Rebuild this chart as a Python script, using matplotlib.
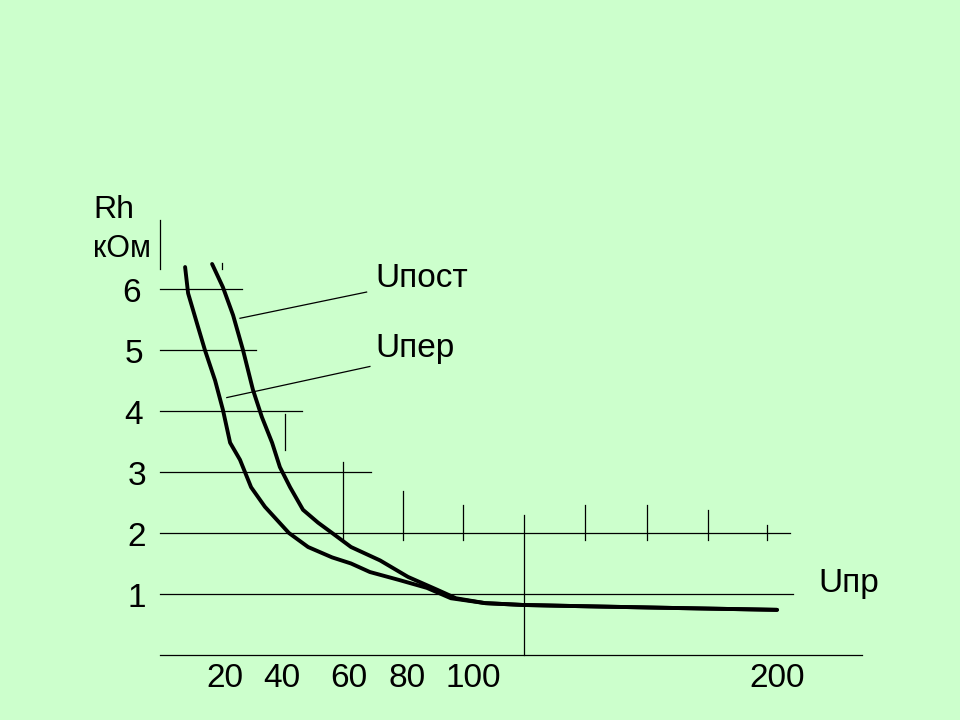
import numpy as np
import matplotlib.pyplot as plt

plt.rcParams['font.family'] = ['Liberation Sans', 'DejaVu Sans']

# curves: U (V) vs Rh (kOm)
u_post = [15.7, 19.3, 22.7, 26.0, 29.3, 32.3, 35.7, 38.3, 41.7, 46.0, 51.0, 55.7,
          62.0, 71.7, 81.0, 90.7, 97.0, 106.7, 119.3, 138.7, 170.3, 204.0]
r_post = [6.41, 6.03, 5.57, 5.00, 4.35, 3.90, 3.48, 3.08, 2.75, 2.38, 2.17, 2.00,
          1.77, 1.55, 1.28, 1.07, 0.93, 0.85, 0.82, 0.80, 0.77, 0.74]

u_per = [6.7, 7.7, 11.0, 13.3, 16.7, 19.3, 21.7, 25.0, 28.7, 33.3, 41.3, 47.7,
         55.7, 62.0, 68.3, 78.0, 87.3, 95.3, 106.7, 119.3, 138.7, 170.3, 204.0]
r_per = [6.36, 5.93, 5.38, 5.00, 4.50, 4.02, 3.48, 3.20, 2.75, 2.43, 2.00, 1.77,
         1.60, 1.50, 1.36, 1.23, 1.10, 0.93, 0.85, 0.82, 0.80, 0.77, 0.74]

# hand drawn grid: horizontal levels and how far right each one goes
grid_levels = [6, 5, 4, 3, 2, 1, 0]
grid_ends = [25.7, 30.3, 45.7, 68.5, 208.3, 209.3, 232.3]
grid_start = -1.7

# vertical marks: x, bottom, top
vmarks_x = [40, 59.3, 79.3, 99.3, 119.7, 140, 160.7, 181, 200.7, 19]
vmarks_lo = [3.36, 1.89, 1.89, 1.89, 0.0, 1.89, 1.89, 1.89, 1.89, 6.33]
vmarks_hi = [3.95, 3.16, 2.69, 2.46, 2.30, 2.46, 2.46, 2.38, 2.13, 6.43]

y_labels = ['6', '5', '4', '3', '2', '1']
y_label_x = [-11.3, -10.3, -10.4, -9.4, -9.3, -9.3]
x_labels = ['20', '40', '60', '80', '100', '200']
x_label_pos = [20, 39, 61.3, 80.7, 102.7, 204]

fig = plt.figure(figsize=(9.6, 7.2), dpi=100, facecolor='#ccffcc')
ax = fig.add_axes([0, 0, 1, 1])
ax.set_facecolor('#ccffcc')
ax.set_xlim(-55, 265)
ax.set_ylim(-1.066, 10.738)
ax.axis('off')

for lev, end in zip(grid_levels, grid_ends):
    ax.plot([grid_start, end], [lev, lev], color='black', lw=0.9)
for x, lo, hi in zip(vmarks_x, vmarks_lo, vmarks_hi):
    ax.plot([x, x], [lo, hi], color='black', lw=0.9)
# short piece of the vertical axis above the 6 line
ax.plot([grid_start, grid_start], [6.33, 7.13], color='black', lw=0.9)

ax.plot(u_per, r_per, color='black', lw=2.8, solid_capstyle='round')
ax.plot(u_post, r_post, color='black', lw=2.8, solid_capstyle='round')

# leader lines to the curve names
ax.plot([25, 67.2], [5.52, 5.95], color='black', lw=0.9)
ax.plot([20.6, 68.3], [4.22, 4.73], color='black', lw=0.9)
ax.text(70, 6.03, 'Uпост', fontsize=24, va='baseline', ha='left')
ax.text(70, 4.89, 'Uпер', fontsize=24, va='baseline', ha='left')
ax.text(217.7, 1.03, 'Uпр', fontsize=24, va='baseline', ha='left')

ax.text(-24.0, 7.16, 'Rh', fontsize=23, va='baseline', ha='left')
ax.text(-24.0, 6.52, 'кОм', fontsize=22, va='baseline', ha='left')

for lab, x, lev in zip(y_labels, y_label_x, grid_levels):
    ax.text(x, lev - 0.22, lab, fontsize=24, va='baseline', ha='center')
for lab, x in zip(x_labels, x_label_pos):
    ax.text(x, -0.52, lab, fontsize=24, va='baseline', ha='center')

fig.savefig('out.png', dpi=100, facecolor='#ccffcc')
